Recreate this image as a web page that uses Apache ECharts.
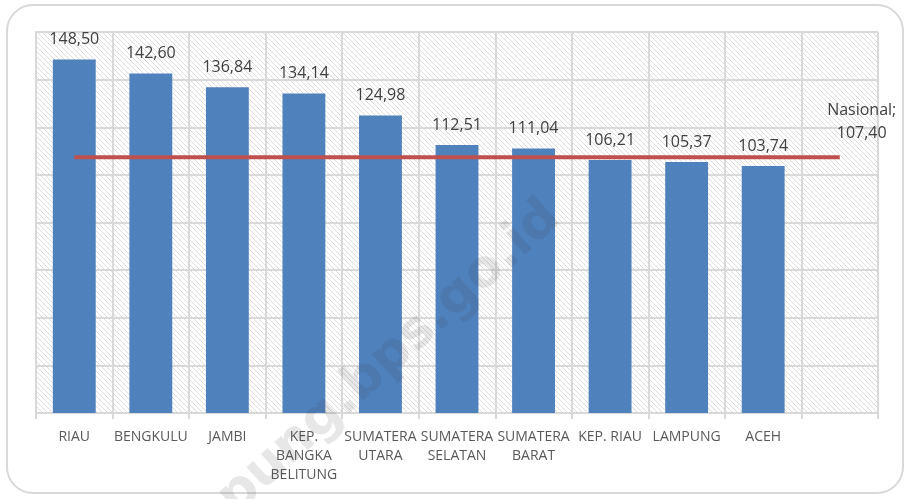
<!DOCTYPE html>
<html>
<head>
<meta charset="utf-8">
<script src="https://cdn.jsdelivr.net/npm/echarts@6/dist/echarts.min.js"></script>
<style>
  html, body { margin: 0; padding: 0; background: #fff; }
  #main { width: 910px; height: 499px; }
</style>
</head>
<body>
<div id="main"></div>
<script>
var provinces = ['RIAU', 'BENGKULU', 'JAMBI', 'KEP.\nBANGKA\nBELITUNG', 'SUMATERA\nUTARA',
    'SUMATERA\nSELATAN', 'SUMATERA\nBARAT', 'KEP. RIAU', 'LAMPUNG', 'ACEH', ''];
var values = [148.50, 142.60, 136.84, 134.14, 124.98, 112.51, 111.04, 106.21, 105.37, 103.74, null];
var nasional = [107.40, 107.40, 107.40, 107.40, 107.40, 107.40, 107.40, 107.40, 107.40, 107.40, 107.40];

var fmt = v => v.toFixed(2).replace('.', ',');

// hatch pattern for the plot area
function makeHatch()
{
    var c = document.createElement('canvas');
    c.width = 5;
    c.height = 5;
    var ctx = c.getContext('2d');
    ctx.fillStyle = '#ffffff';
    ctx.fillRect(0, 0, 5, 5);
    ctx.strokeStyle = '#dddddd';
    ctx.lineWidth = 1;
    ctx.beginPath();
    ctx.moveTo(-1, -1); ctx.lineTo(6, 6);
    ctx.moveTo(-1, 4); ctx.lineTo(1, 6);
    ctx.moveTo(4, -1); ctx.lineTo(6, 1);
    ctx.stroke();
    return c;
}

var myChart = echarts.init(document.getElementById('main'), null, { renderer: 'canvas' });

var option = {
    animation: false,
    textStyle: { fontFamily: 'Open Sans' },
    grid: {
        left: 36,
        right: 32,
        top: 32,
        bottom: 86,
        show: true,
        borderWidth: 0,
        backgroundColor: { image: makeHatch(), repeat: 'repeat' }
    },
    graphic: [
        {
            type: 'rect',
            shape: { x: 7, y: 5, width: 896, height: 488, r: 26 },
            style: { fill: 'none', stroke: '#d9d9d9', lineWidth: 2 },
            silent: true,
            z: -10
        },
        {
            type: 'text',
            x: 350,
            y: 394,
            rotation: Math.PI * 42 / 180,
            style: {
                text: 'lampung.bps.go.id',
                font: 'bold 52px "DejaVu Sans"',
                fill: 'rgba(60,60,60,0.12)',
                align: 'center',
                verticalAlign: 'middle'
            },
            silent: true,
            z: 100
        }
    ],
    xAxis: {
        type: 'category',
        data: provinces,
        axisLine: { lineStyle: { color: '#d9d9d9', width: 2 } },
        axisTick: { show: true, length: 6, lineStyle: { color: '#d9d9d9', width: 2 } },
        splitLine: { show: true, lineStyle: { color: '#d9d9d9', width: 2 } },
        axisLabel: {
            interval: 0,
            color: '#595959',
            fontSize: 14,
            lineHeight: 19,
            margin: 15
        }
    },
    yAxis: {
        type: 'value',
        min: 0,
        max: 160,
        interval: 20,
        axisLine: { show: true, lineStyle: { color: '#d9d9d9', width: 2 } },
        axisTick: { show: false },
        axisLabel: { show: false },
        splitLine: { lineStyle: { color: '#d9d9d9', width: 2 } }
    },
    series: [
        {
            name: 'Provinsi',
            type: 'bar',
            data: values,
            barCategoryGap: '44%',
            itemStyle: { color: '#4f81bd' },
            label: {
                show: true,
                position: 'top',
                distance: 12,
                color: '#404040',
                fontSize: 16,
                formatter: p => p.value == null ? '' : fmt(p.value)
            }
        },
        {
            name: 'Nasional',
            type: 'line',
            data: nasional.map((v, i) => i === nasional.length - 1 ? {
                value: v,
                label: {
                    show: true,
                    position: 'top',
                    distance: 0,
                    offset: [22, -12],
                    color: '#404040',
                    fontSize: 16,
                    lineHeight: 23,
                    formatter: p => 'Nasional;\n' + fmt(p.value)
                }
            } : v),
            symbol: 'circle',
            symbolSize: 0,
            showSymbol: true,
            lineStyle: { color: '#c0504d', width: 4 },
            z: 5
        }
    ]
};

myChart.setOption(option);
</script>
</body>
</html>
